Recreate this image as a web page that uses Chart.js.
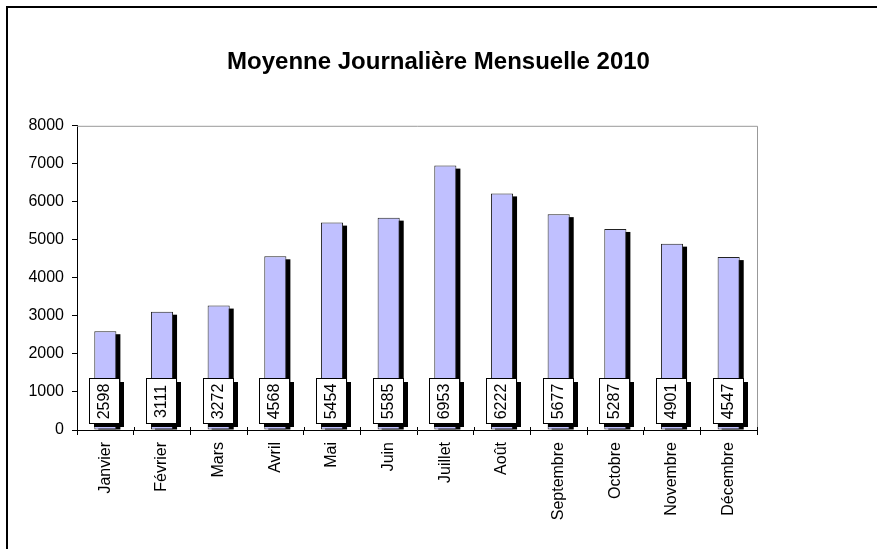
<!DOCTYPE html>
<html>
<head>
<meta charset="utf-8">
<script src="https://cdn.jsdelivr.net/npm/chart.js@4/dist/chart.umd.min.js"></script>
<style>
  html, body { margin: 0; padding: 0; background: #fff; }
  #wrap { width: 877px; height: 549px; }
</style>
</head>
<body>
<div id="wrap"><canvas id="chart" width="877" height="549"></canvas></div>
<script>
const months = ["Janvier", "Février", "Mars", "Avril", "Mai", "Juin", "Juillet", "Août", "Septembre", "Octobre", "Novembre", "Décembre"];
const dailyAvg = [2598, 3111, 3272, 4568, 5454, 5585, 6953, 6222, 5677, 5287, 4901, 4547];
const chartTitle = "Moyenne Journalière Mensuelle 2010";

const FONT = "'Liberation Sans', Arial, sans-serif";

// shadows behind the bars, grey frame, value boxes, outer border
const excelLook = {
  id: "excelLook",
  beforeDatasetsDraw(chart) {
    const ctx = chart.ctx;
    const meta = chart.getDatasetMeta(0);
    ctx.save();
    ctx.fillStyle = "#000";
    meta.data.forEach((bar) => {
      const w = bar.width;
      ctx.fillRect(bar.x - w / 2 + 4, bar.y + 3, w, bar.base - bar.y - 3);
    });
    ctx.restore();
  },
  afterDatasetsDraw(chart) {
    const ctx = chart.ctx;
    const meta = chart.getDatasetMeta(0);
    const area = chart.chartArea;
    const xs = chart.scales.x;
    ctx.save();
    // grey top/right frame of the plot area
    ctx.strokeStyle = "#999";
    ctx.lineWidth = 1;
    ctx.beginPath();
    ctx.moveTo(area.left, area.top + 0.5);
    ctx.lineTo(area.right + 0.5, area.top + 0.5);
    ctx.lineTo(area.right + 0.5, area.bottom);
    ctx.stroke();

    // category ticks also poke above the axis
    const step = xs.getPixelForValue(1) - xs.getPixelForValue(0);
    ctx.strokeStyle = "#000";
    ctx.beginPath();
    for (let i = 0; i <= months.length; i++) {
      const x = Math.round(xs.getPixelForValue(i) - step / 2) + 0.5;
      ctx.moveTo(x, area.bottom - 3);
      ctx.lineTo(x, area.bottom);
    }
    ctx.stroke();

    // value labels
    ctx.font = "16px " + FONT;
    meta.data.forEach((bar, i) => {
      const bw = 30, bh = 45;
      const x0 = Math.round(bar.x - 1 - bw / 2);
      const y0 = Math.round(bar.base - 7 - bh);
      ctx.fillStyle = "#000";
      ctx.fillRect(x0 + 5, y0 + 4, bw, bh);
      ctx.fillStyle = "#fff";
      ctx.fillRect(x0, y0, bw, bh);
      ctx.strokeStyle = "#000";
      ctx.strokeRect(x0 + 0.5, y0 + 0.5, bw, bh);
      ctx.save();
      ctx.translate(x0 + bw / 2 + 1, y0 + bh / 2 + 1);
      ctx.rotate(-Math.PI / 2);
      ctx.fillStyle = "#000";
      ctx.textAlign = "center";
      ctx.textBaseline = "middle";
      ctx.fillText(String(dailyAvg[i]), 0, 0);
      ctx.restore();
    });
    ctx.restore();
  },
  afterDraw(chart) {
    const ctx = chart.ctx;
    ctx.save();
    ctx.strokeStyle = "#000";
    ctx.lineWidth = 2;
    ctx.strokeRect(7, 7, 900, 600);
    ctx.restore();
  }
};

new Chart(document.getElementById("chart"), {
  type: "bar",
  data: {
    labels: months,
    datasets: [{
      data: dailyAvg,
      backgroundColor: "#C0C0FF",
      borderColor: "#222",
      borderWidth: 1,
      borderSkipped: false,
      barPercentage: 0.39,
      categoryPercentage: 1.0
    }]
  },
  options: {
    responsive: false,
    animation: false,
    layout: { padding: 0 },
    plugins: {
      legend: { display: false },
      tooltip: { enabled: false },
      title: {
        display: true,
        text: chartTitle,
        color: "#000",
        font: { family: FONT, size: 24, weight: "bold" },
        padding: { top: 48, bottom: 49 }
      }
    },
    scales: {
      x: {
        offset: true,
        grid: { offset: true, drawOnChartArea: false, tickLength: 5, color: "#000" },
        border: { color: "#000" },
        ticks: {
          color: "#000",
          minRotation: 90,
          maxRotation: 90,
          padding: 7,
          font: { family: FONT, size: 16 }
        },
        afterFit(scale) { scale.height = 119; }
      },
      y: {
        min: 0,
        max: 8000,
        grid: { drawOnChartArea: false, tickLength: 5, color: "#000" },
        border: { color: "#000" },
        ticks: {
          stepSize: 1000,
          color: "#000",
          padding: 8,
          font: { family: FONT, size: 16 },
          callback: (v) => String(v)
        },
        afterFit(scale) { scale.width = 77; }
      },
      yRight: {
        position: "right",
        min: 0,
        max: 8000,
        grid: { display: false },
        border: { display: false },
        ticks: { display: false },
        afterFit(scale) { scale.width = 120; }
      }
    }
  },
  plugins: [excelLook]
});
</script>
</body>
</html>
